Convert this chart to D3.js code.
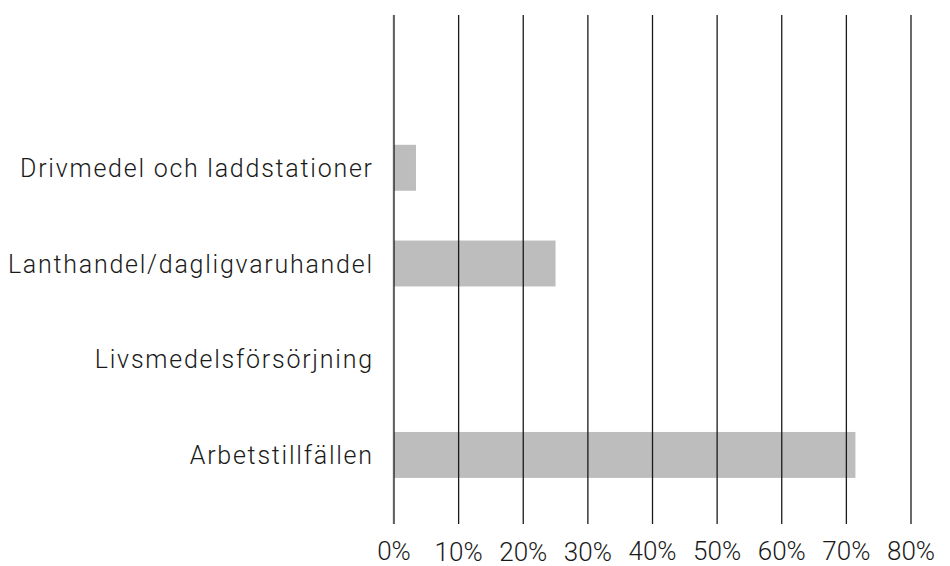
<!DOCTYPE html>
<html><head><meta charset="utf-8">
<script src="https://cdn.jsdelivr.net/npm/d3@7"></script>
<style>
html,body{margin:0;padding:0;background:#fff;}
svg{display:block;}
text{font-family:Roboto, "Noto Sans", sans-serif;font-weight:300;fill:#1a1a1a;}
</style></head>
<body>
<svg id="chart" width="950" height="566"></svg>
<script>
const categories = ["", "Drivmedel och laddstationer", "Lanthandel/dagligvaruhandel", "Livsmedelsförsörjning", "Arbetstillfällen"];
const values = [null, 3.4, 25, 0, 71.4];
const tickValues = [0, 10, 20, 30, 40, 50, 60, 70, 80];
const tickLabels = ["0%", "10%", "20%", "30%", "40%", "50%", "60%", "70%", "80%"];

const svg = d3.select("#chart");
const plotTop = 15, plotBottom = 524;
const x = d3.scaleLinear().domain([0, 80]).range([394, 911]);
const y = d3.scaleBand().domain(categories).range([24.2, 502.8]).paddingInner(0.52).paddingOuter(0.26);

// y axis line (light grey)
svg.append("line").attr("x1", x(0) - 1).attr("x2", x(0) - 1)
  .attr("y1", plotTop).attr("y2", plotBottom)
  .attr("stroke", "#cfcfcf").attr("stroke-width", 1);

// bars
svg.append("g").selectAll("rect")
  .data(categories.map((c, i) => ({c, v: values[i]})).filter(d => d.v != null && d.v > 0))
  .join("rect")
  .attr("x", x(0))
  .attr("y", d => y(d.c))
  .attr("width", d => x(d.v) - x(0))
  .attr("height", y.bandwidth())
  .attr("fill", "#bdbdbd");

// gridlines
svg.append("g").selectAll("line")
  .data(tickValues).join("line")
  .attr("x1", d => x(d)).attr("x2", d => x(d))
  .attr("y1", plotTop).attr("y2", plotBottom)
  .attr("stroke", "#1a1a1a").attr("stroke-width", 1.3);

// x tick labels
const tickNudge = [0, 1, 1, 1, 0, 0, 0, 0, 0];
svg.append("g").selectAll("text")
  .data(tickValues).join("text")
  .attr("x", d => x(d))
  .attr("y", (d, i) => 560 + tickNudge[i])
  .attr("text-anchor", "middle")
  .attr("font-size", 26)
  .text((d, i) => tickLabels[i]);

// category labels
svg.append("g").selectAll("text")
  .data(categories).join("text")
  .attr("x", 373.8)
  .attr("y", d => y(d) + y.bandwidth() / 2)
  .attr("dy", "0.36em")
  .attr("text-anchor", "end")
  .attr("font-size", 25)
  .attr("letter-spacing", "1.75px")
  .text(d => d);
</script>
</body></html>
